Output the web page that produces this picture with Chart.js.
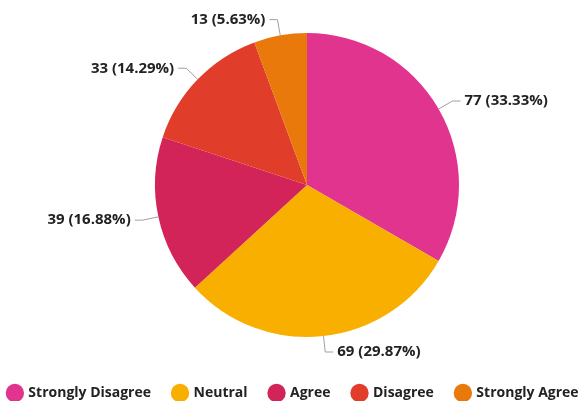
<!DOCTYPE html>
<html>
<head>
<meta charset="utf-8">
<script src="https://cdn.jsdelivr.net/npm/chart.js@4"></script>
<style>
  html, body { margin: 0; padding: 0; background: #fff; overflow: hidden; }
  #wrap { width: 587px; height: 401px; }
</style>
</head>
<body>
<div id="wrap"><canvas id="myChart"></canvas></div>
<script>
var categories = ["Strongly Disagree", "Neutral", "Agree", "Disagree", "Strongly Agree"];
var counts = [77, 69, 39, 33, 13];
var sliceColors = ['#E1348F', '#F9AF00', '#D3245A', '#E13D2B', '#E9790A'];

var FONT = '"Open Sans", "Noto Sans", sans-serif';

// keep the legend on one row even with wide gaps between items:
// widen the box while rows are measured and drawn (centre stays put)
var oneRowLegend = {
  id: 'oneRowLegend',
  beforeLayout: function (chart) {
    var lg = chart.legend;
    if (!lg || lg._oneRow) return;
    var fitRows = lg._fitRows, draw = lg._draw;
    lg._fitRows = function () {
      var m = this.maxWidth;
      this.maxWidth = m + 200;
      var h = fitRows.apply(this, arguments);
      this.maxWidth = m;
      return h;
    };
    lg._draw = function () {
      this.left -= 100; this.right += 100;
      draw.apply(this, arguments);
      this.left += 100; this.right -= 100;
    };
    lg._oneRow = true;
  }
};

// fixed pie box and legend row position
var placePie = {
  id: 'placePie',
  afterLayout: function (chart) {
    var a = chart.chartArea;
    a.left = 155; a.right = 459; a.top = 33; a.bottom = 337;
    a.width = a.right - a.left; a.height = a.bottom - a.top;
    var lg = chart.legend;
    var dy = 393 - (lg.top + lg.options.labels.padding + 7);
    lg.top += dy; lg.bottom += dy;
  }
};

// labels "n (p%)" outside each slice with a bent leader line
var outsideLabels = {
  id: 'outsideLabels',
  afterDatasetsDraw: function (chart) {
    var ctx = chart.ctx;
    var meta = chart.getDatasetMeta(0);
    var total = counts.reduce(function (a, b) { return a + b; }, 0);
    ctx.save();
    ctx.font = 'bold 15px ' + FONT;
    ctx.textBaseline = 'middle';
    meta.data.forEach(function (arc, i) {
      var p = arc.getProps(['x', 'y', 'startAngle', 'endAngle', 'outerRadius'], true);
      var mid = (p.startAngle + p.endAngle) / 2;
      var c = Math.cos(mid), s = Math.sin(mid);
      var x0 = p.x + p.outerRadius * c, y0 = p.y + p.outerRadius * s;
      var x1 = p.x + (p.outerRadius + 16) * c, y1 = p.y + (p.outerRadius + 16) * s;
      var right = c >= 0;
      var x2 = x1 + (right ? 8 : -8);
      ctx.strokeStyle = '#a0a0a0';
      ctx.lineWidth = 1;
      ctx.beginPath();
      ctx.moveTo(x0, y0);
      ctx.lineTo(x1, y1);
      ctx.lineTo(x2, y1);
      ctx.stroke();
      var pct = (counts[i] / total * 100).toFixed(2);
      ctx.fillStyle = '#222';
      ctx.textAlign = right ? 'left' : 'right';
      ctx.fillText(counts[i] + ' (' + pct + '%)', x2 + (right ? 4 : -4), y1);
    });
    ctx.restore();
  }
};

var ctx = document.getElementById("myChart").getContext('2d');
var myChart = new Chart(ctx, {
  type: 'pie',
  data: {
    labels: categories,
    datasets: [{
      data: counts,
      backgroundColor: sliceColors,
      borderWidth: 0
    }]
  },
  options: {
    responsive: true,
    maintainAspectRatio: false,
    animation: false,
    plugins: {
      legend: {
        position: 'bottom',
        labels: {
          usePointStyle: true,
          pointStyle: 'circle',
          boxWidth: 13,
          boxHeight: 13,
          padding: 22.5,
          color: '#222',
          font: { family: FONT, size: 14, weight: 'bold' }
        }
      },
      tooltip: { enabled: false }
    }
  },
  plugins: [oneRowLegend, placePie, outsideLabels]
});
</script>
</body>
</html>
